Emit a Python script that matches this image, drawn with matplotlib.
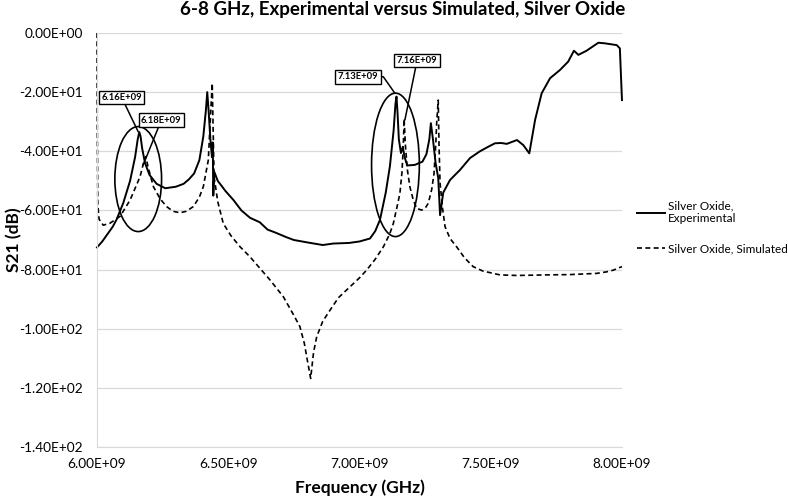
import numpy as np
import matplotlib
matplotlib.use('Agg')
import matplotlib.pyplot as plt
from matplotlib.patches import Ellipse
from matplotlib.ticker import FuncFormatter

plt.rcParams['font.family'] = ['Lato', 'DejaVu Sans']

# experimental curve (GHz, dB)
exp_freq = [6.000, 6.020, 6.040, 6.060, 6.075, 6.100, 6.126, 6.145, 6.155, 6.161,
            6.166, 6.172, 6.183, 6.200, 6.227, 6.260, 6.300, 6.330, 6.350, 6.370,
            6.390, 6.405, 6.415, 6.420, 6.425, 6.432, 6.438, 6.441, 6.443, 6.447,
            6.460, 6.490, 6.520, 6.550, 6.583, 6.620, 6.650, 6.680, 6.720, 6.750,
            6.800, 6.860, 6.900, 6.960, 7.000, 7.040, 7.060, 7.078, 7.100, 7.116,
            7.130, 7.137, 7.141, 7.145, 7.150, 7.158, 7.165, 7.172, 7.182, 7.211,
            7.240, 7.255, 7.266, 7.272, 7.280, 7.290, 7.300, 7.307, 7.319, 7.345,
            7.383, 7.421, 7.459, 7.490, 7.516, 7.540, 7.561, 7.600, 7.624, 7.647,
            7.669, 7.694, 7.726, 7.764, 7.795, 7.817, 7.834, 7.865, 7.910, 7.935,
            7.980, 7.992, 8.000]
exp_s21 = [-72.5, -70.5, -68.0, -65.5, -63.0, -57.5, -50.0, -42.0, -36.0, -33.5,
           -35.0, -39.0, -44.0, -48.0, -51.0, -52.5, -52.0, -51.0, -49.5, -47.5,
           -43.0, -35.0, -26.0, -20.0, -26.0, -36.0, -42.0, -37.0, -55.0, -47.0,
           -50.0, -53.5, -56.5, -60.0, -62.5, -64.0, -66.5, -67.5, -69.0, -70.0,
           -70.8, -71.7, -71.2, -71.0, -70.5, -69.5, -67.0, -63.2, -54.0, -45.0,
           -33.0, -24.0, -21.5, -27.0, -36.0, -40.6, -38.5, -42.0, -44.8, -44.6,
           -43.5, -41.0, -36.0, -30.5, -36.0, -44.0, -49.0, -61.6, -54.0, -49.7,
           -46.3, -42.3, -40.0, -38.5, -37.3, -37.2, -37.5, -36.2, -37.9, -40.7,
           -29.4, -20.4, -15.3, -12.5, -9.7, -6.0, -7.4, -6.0, -3.3, -3.5,
           -4.1, -5.2, -22.7]

# simulated curve (GHz, dB)
sim_freq = [6.000, 6.001, 6.003, 6.008, 6.024, 6.050, 6.088, 6.126, 6.164, 6.180,
            6.186, 6.195, 6.215, 6.240, 6.265, 6.290, 6.316, 6.340, 6.367, 6.390,
            6.405, 6.424, 6.433, 6.439, 6.443, 6.446, 6.460, 6.481, 6.510, 6.545,
            6.583, 6.620, 6.659, 6.710, 6.750, 6.773, 6.790, 6.800, 6.814, 6.825,
            6.837, 6.860, 6.888, 6.920, 6.964, 7.000, 7.027, 7.060, 7.091, 7.115,
            7.129, 7.145, 7.154, 7.162, 7.167, 7.170, 7.175, 7.182, 7.192, 7.205,
            7.218, 7.237, 7.252, 7.262, 7.275, 7.284, 7.291, 7.294, 7.300, 7.303,
            7.307, 7.316, 7.326, 7.345, 7.370, 7.400, 7.433, 7.470, 7.510, 7.535,
            7.600, 7.713, 7.800, 7.903, 7.940, 7.967, 8.000]
sim_s21 = [0.0, -30.0, -58.0, -63.0, -65.0, -64.3, -62.0, -56.5, -48.6, -43.0,
           -41.8, -45.5, -52.0, -56.0, -58.7, -60.3, -60.8, -60.3, -58.7, -55.5,
           -52.0, -43.0, -27.0, -17.0, -35.0, -48.6, -57.0, -64.4, -68.5, -72.3,
           -75.7, -79.5, -83.5, -89.2, -95.5, -99.3, -105.0, -110.0, -116.8, -108.0,
           -102.7, -97.5, -93.7, -89.5, -85.8, -82.8, -80.2, -76.5, -72.3, -68.0,
           -64.4, -58.0, -54.2, -47.0, -38.0, -29.0, -38.0, -46.0, -52.0, -56.5,
           -59.3, -59.9, -59.0, -57.6, -53.0, -47.5, -37.0, -30.5, -22.7, -38.0,
           -50.8, -59.0, -65.5, -69.5, -72.3, -76.0, -79.0, -80.5, -81.3, -81.8,
           -82.0, -81.8, -81.7, -81.3, -80.8, -80.2, -79.0]

# callout labels: (label, frequency GHz, dB)
callouts = [('6.16E+09', 6.157, -33.4), ('6.18E+09', 6.176, -44.6),
            ('7.13E+09', 7.135, -20.4), ('7.16E+09', 7.173, -29.4)]

x_ticks = [6.0e9, 6.5e9, 7.0e9, 7.5e9, 8.0e9]
y_ticks = [0, -20, -40, -60, -80, -100, -120, -140]


def sci(v, pos):
    return '{:.2E}'.format(v)


def main():
    fig = plt.figure(figsize=(7.88, 4.99), dpi=100)
    ax = fig.add_axes([0.1231, 0.1042, 0.6662, 0.8297])

    ef = np.array(exp_freq) * 1e9
    sf = np.array(sim_freq) * 1e9
    ax.plot(ef, exp_s21, color='black', lw=1.4, label='Silver Oxide,\nExperimental',
            clip_on=False)
    ax.plot(sf, sim_s21, color='black', lw=1.2, linestyle=(0, (3, 2)),
            label='Silver Oxide, Simulated', clip_on=False)

    ax.set_xlim(6.0e9, 8.0e9)
    ax.set_ylim(-140, 0)
    ax.set_xticks(x_ticks)
    ax.set_yticks(y_ticks)
    ax.xaxis.set_major_formatter(FuncFormatter(sci))
    ax.yaxis.set_major_formatter(FuncFormatter(sci))
    ax.tick_params(length=0, labelsize=9.8)
    ax.tick_params(axis='y', pad=10)
    ax.tick_params(axis='x', pad=8)
    ax.grid(axis='y', color='#d9d9d9', lw=0.9)
    ax.set_axisbelow(True)
    for s in ['top', 'right']:
        ax.spines[s].set_visible(False)
    for s in ['left', 'bottom']:
        ax.spines[s].set_color('#d9d9d9')

    # ellipses round the peaks
    ax.add_patch(Ellipse((6.157e9, -49.4), 0.178e9, 35.5, fill=False, ec='black', lw=1.2))
    ax.add_patch(Ellipse((7.137e9, -44.6), 0.182e9, 48.5, fill=False, ec='black', lw=1.2))

    box = dict(boxstyle='square,pad=0.25', fc='white', ec='black', lw=1)
    text_pos = [(6.094e9, -21.8), (6.245e9, -29.5), (6.994e9, -14.8), (7.2195e9, -9.3)]
    for (lab, f, db), tp in zip(callouts, text_pos):
        conn = 'arc3'
        if lab == '7.13E+09':
            conn = 'angle,angleA=0,angleB=-55,rad=0'
        ax.annotate(lab, xy=(f * 1e9, db), xytext=tp, fontsize=6.8, fontweight='bold',
                    ha='center', va='center', bbox=box,
                    arrowprops=dict(arrowstyle='-', color='black', lw=1.1,
                                    shrinkA=0, shrinkB=0, connectionstyle=conn))

    ax.set_xlabel('Frequency (GHz)', fontsize=12.5, fontweight='bold', va='center')
    ax.xaxis.set_label_coords(0.5, -0.099)
    ax.set_ylabel('S21 (dB)', fontsize=12.5, fontweight='bold', va='center')
    ax.yaxis.set_label_coords(-0.158, 0.5)

    fig.text(0.511, 0.981, '6-8 GHz, Experimental versus Simulated, Silver Oxide',
             ha='center', va='center', fontsize=13.5, fontweight='bold')

    ax.legend(loc='upper left', bbox_to_anchor=(0.795, 0.62), bbox_transform=fig.transFigure,
              frameon=False, fontsize=8.5, handlelength=2.4, handletextpad=0.2,
              labelspacing=1.6)

    fig.savefig('out.png', dpi=100)


if __name__ == '__main__':
    main()
